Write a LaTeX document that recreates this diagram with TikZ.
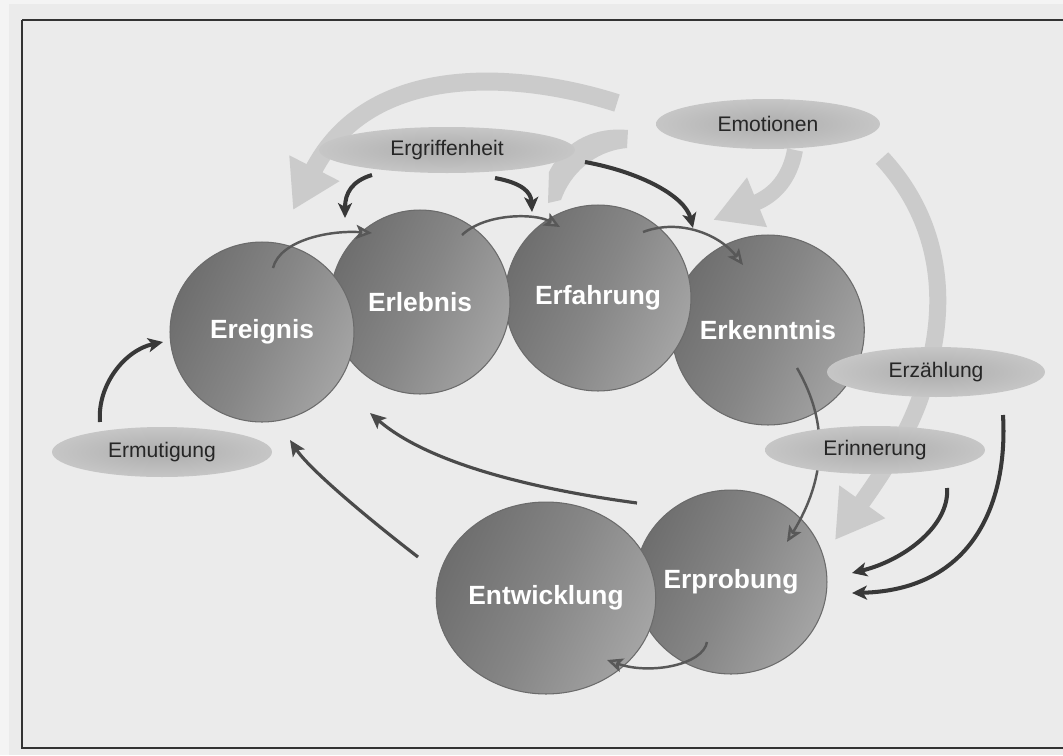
\documentclass[tikz,border=0pt]{standalone}
\usepackage{fontspec}
\setmainfont{Liberation Sans}
\usetikzlibrary{shapes.geometric,arrows.meta,calc}
\definecolor{paper}{HTML}{EBEBEB}
\definecolor{paperlight}{HTML}{F4F4F4}
\definecolor{bandc}{HTML}{CBCBCB}
\definecolor{sphL}{HTML}{6E6E6E}
\definecolor{sphM}{HTML}{868686}
\definecolor{sphR}{HTML}{A4A4A4}
\definecolor{ellIn}{HTML}{ADADAD}
\definecolor{ellOut}{HTML}{C6C6C6}
\definecolor{darkarrow}{HTML}{383838}
\definecolor{thinarrow}{HTML}{585858}
\definecolor{midarrow}{HTML}{4A4A4A}
\begin{document}
\begin{tikzpicture}[x=0.02cm,y=-0.02cm,
  sphere/.style={ellipse, inner sep=0pt, draw=black!58, line width=0.6pt,
    left color=sphL, right color=sphR, middle color=sphM, shading angle=65,
    text=white, font=\fontsize{15}{18}\selectfont\bfseries},
  oval/.style={ellipse, inner sep=0pt, inner color=ellIn, outer color=ellOut,
    text=black!85, font=\fontsize{12}{14}\selectfont},
  band/.style={draw=bandc, line width=0.36cm},
  bandtip/.style={-{Triangle[length=0.94cm,width=1.06cm]}},
  darkarr/.style={draw=darkarrow, line width=2.3pt, -{Stealth[length=8.5pt,width=8pt,inset=2.2pt]}},
  thinarr/.style={draw=thinarrow, line width=1.4pt, -{Stealth[length=9pt,width=8pt,inset=2pt,fill=black!45]}},
  midarr/.style={draw=midarrow, line width=1.8pt, -{Stealth[length=9pt,width=8pt,inset=2pt]}},
  frameline/.style={draw=black!80, line width=0.9pt}
]
\useasboundingbox (0,0) rectangle (1063,755);
\fill[paper] (0,0) rectangle (1063,755);
\fill[paperlight] (0,0) rectangle (9,755);
\fill[paperlight] (0,0) rectangle (1063,4);
\draw[frameline] (22,20) -- (1063,20);
\draw[frameline] (22,20) -- (22,748) -- (1063,748);

% light broad arrows
\coordinate (bandAstart) at (617,103);
\coordinate (bandAend) at (293,210);
\coordinate (bandCstart) at (795,150);
\coordinate (bandCend) at (713,220);
\coordinate (bandDstart) at (882,158);
\coordinate (bandDmid) at (928,370);
\coordinate (bandDend) at (835,540);
\draw[band, bandtip] (bandAstart) .. controls (520,72) and (370,60) .. (bandAend);
\fill[bandc] (628,130) .. controls (598,127) and (566,138) .. (549,172) -- (548,203) -- (561,200)
   .. controls (570,174) and (594,151) .. (627,148) -- cycle;
\draw[band, line width=0.32cm, -{Triangle[length=0.95cm,width=1.0cm]}] (bandCstart) .. controls (790,178) and (775,195) .. (bandCend);
\draw[band, line width=0.34cm, bandtip] (bandDstart) .. controls (935,215) and (950,290) .. (bandDmid)
   .. controls (918,420) and (885,470) .. (bandDend);

% spheres (right ones behind)
\node[sphere, minimum width=3.64cm, minimum height=3.8cm] (Erkenntnis) at (768,330) {Erkenntnis};
\node[sphere, minimum width=3.72cm, minimum height=3.72cm] (Erfahrung) at (598,298) {Erfahrung};
\node[sphere, minimum width=3.6cm, minimum height=3.68cm] (Erlebnis) at (420,302) {Erlebnis};
\node[sphere, minimum width=3.68cm, minimum height=3.6cm] (Ereignis) at (262,332) {Ereignis};
\node[sphere, minimum width=3.84cm, minimum height=3.68cm] (Erprobung) at (731,582) {Erprobung};
\node[sphere, minimum width=4.08cm, minimum height=3.84cm] (Entwicklung) at (546,598) {Entwicklung};

% thin arrows between spheres
\draw[thinarr] ($(Ereignis.center)+(11,-64)$) .. controls +(7,-28) and +(-42,-3) .. ($(Erlebnis.center)+(-48,-69)$);
\draw[thinarr] ($(Erlebnis.center)+(42,-67)$) .. controls +(23,-22) and +(-25,-14) .. ($(Erfahrung.center)+(-38,-71)$);
\draw[thinarr] ($(Erfahrung.center)+(45,-66)$) .. controls +(37,-14) and +(-23,-30) .. ($(Erkenntnis.center)+(-25,-65)$);
\draw[thinarr] ($(Erkenntnis.center)+(29,38)$) .. controls +(33,57) and +(38,-62) .. ($(Erprobung.center)+(56,-40)$);
\draw[thinarr] ($(Erprobung.center)+(-24,60)$) .. controls +(-4,23) and +(43,15) .. ($(Entwicklung.center)+(61,62)$);

% ovals
\node[oval, minimum width=5.12cm, minimum height=0.92cm] (Ergriffenheit) at (447,150) {Ergriffenheit};
\node[oval, minimum width=4.48cm, minimum height=1.0cm] (Emotionen) at (768,124) {Emotionen};
\node[oval, minimum width=4.36cm, minimum height=1.0cm] (Erzaehlung) at (936,372) {Erzählung};
\node[oval, minimum width=4.4cm, minimum height=0.96cm] (Erinnerung) at (875,450) {Erinnerung};
\node[oval, minimum width=4.4cm, minimum height=1.0cm] (Ermutigung) at (162,452) {Ermutigung};

% dark arrows
\draw[darkarr] ($(Ergriffenheit.center)+(-75,25)$) .. controls +(-20,6) and +(0,-25) .. ($(Erlebnis.center)+(-75,-84)$);
\draw[darkarr] ($(Ergriffenheit.center)+(48,28)$) .. controls +(27,5) and +(-1,-20) .. ($(Erfahrung.center)+(-66,-86)$);
\draw[darkarr] ($(Ergriffenheit.center)+(138,12)$) .. controls +(55,10) and +(-8,-32) .. ($(Erkenntnis.center)+(-75,-102)$);
\draw[darkarr] ($(Ermutigung.center)+(-62,-30)$) .. controls +(-3,-37) and +(-38,8) .. ($(Ereignis.center)+(-99,10)$);
\draw[darkarr] ($(Erzaehlung.center)+(67,43)$) .. controls +(5,85) and +(123,-3) .. ($(Erprobung.center)+(121,11)$);
\draw[darkarr] ($(Erinnerung.center)+(72,38)$) .. controls +(3,37) and +(53,-13) .. ($(Erprobung.center)+(121,-9)$);

% medium arrows back to Ereignis
\draw[midarr] ($(Erprobung.center)+(-94,-79)$) .. controls +(-97,-13) and +(60,52) .. ($(Ereignis.center)+(108,81)$);
\draw[midarr] ($(Entwicklung.center)+(-128,-41)$) .. controls +(-48,-37) and +(20,30) .. ($(Ereignis.center)+(28,108)$);
\end{tikzpicture}
\end{document}
